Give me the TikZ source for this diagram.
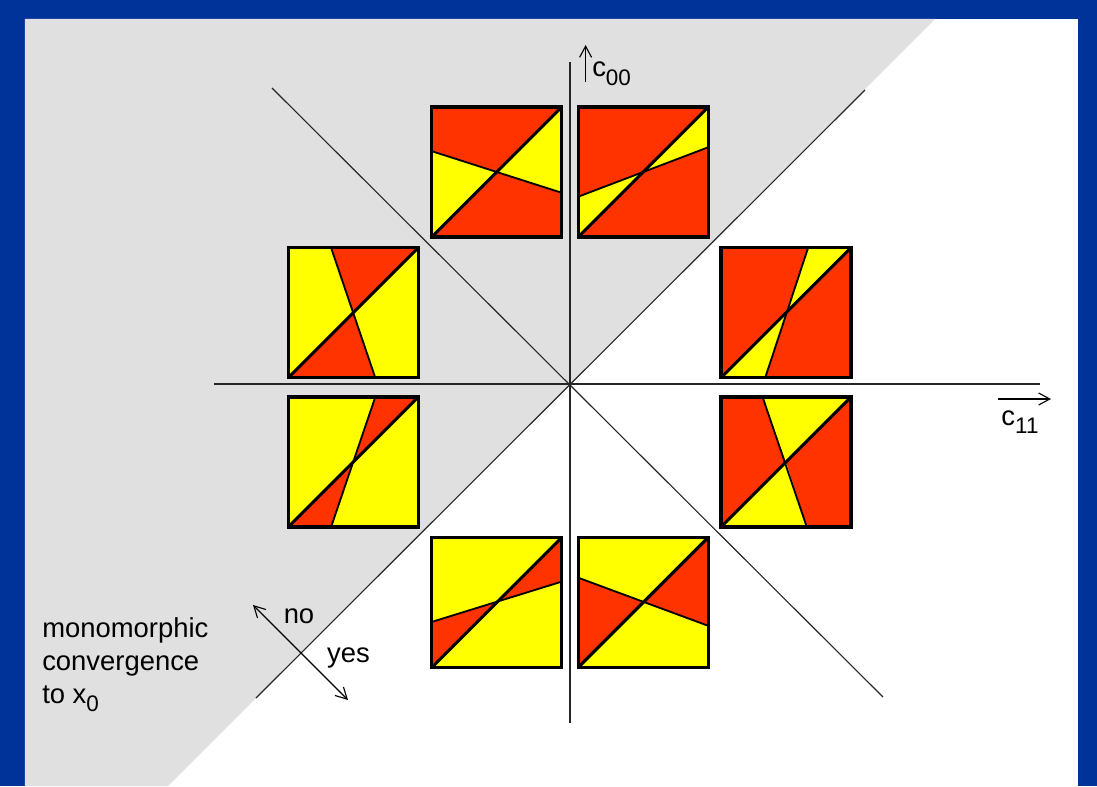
\documentclass[tikz,border=0pt]{standalone}
\usepackage{fontspec}
\setmainfont{Liberation Sans}
\usepackage{xcolor}
\usetikzlibrary{calc,arrows.meta}

\definecolor{hot}{RGB}{255,51,0}
\definecolor{sun}{RGB}{255,255,0}
\definecolor{greyzone}{RGB}{224,224,224}
\definecolor{frameblue}{RGB}{0,51,153}
\newcommand{\lowidx}[1]{\raisebox{-0.6ex}{\fontsize{16}{16}\selectfont #1}}

\begin{document}
\begin{tikzpicture}[
    cell/.style={minimum size=3.25cm, inner sep=0pt, outer sep=0pt},
    cellframe/.style={draw=black, line width=2.2pt},
    diag/.style={black, line width=2.2pt},
    split/.style={black, line width=1.3pt},
    axis/.style={black!85, line width=0.8pt},
    arrow/.style={->, >={Straight Barb[length=2.8mm, width=3mm]}, line width=0.8pt},
    lbl/.style={font=\fontsize{19.5}{23.5}\selectfont, inner sep=0pt}
]
\useasboundingbox (-14.25,-10.05) rectangle (13.175,9.6);

% frame and the shaded half plane
\fill[frameblue] (-14.25,-10.05) rectangle (13.175,9.6);
\fill[white] (-13.625,-10.05) rectangle (12.7,9.125);
\fill[greyzone] (-13.625,9.125) -- (9.125,9.125) -- (-10.05,-10.05) -- (-13.625,-10.05) -- cycle;

% axes and diagonals
\draw[axis] (-8.9,0) -- (11.75,0);
\draw[axis] (0,-8.475) -- (0,8.05);
\draw[axis] (-7.45,7.4) -- (7.825,-7.825);
\draw[axis] (-7.85,-7.85) -- (7.375,7.35);

\draw[arrow] (0.39,7.55) -- (0.39,8.475);
\node[lbl, anchor=base west] (c00) at (0.55,7.675) {c\lowidx{00}};
\draw[arrow] (10.7,-0.375) -- (12.025,-0.375);
\node[lbl, anchor=base west] (c11) at (10.78,-1.025) {c\lowidx{11}};

% top pair
\node[cell, fill=hot] (s1) at (-1.83,5.3) {};
\coordinate (s1l) at ($(s1.south west)!0.66!(s1.north west)$);
\coordinate (s1r) at ($(s1.north east)!0.66!(s1.south east)$);
\fill[sun] (s1.south west) -- (s1l) -- (s1.center) -- cycle;
\fill[sun] (s1.north east) -- (s1r) -- (s1.center) -- cycle;
\draw[split] (s1l) -- (s1r);
\draw[diag] (s1.south west) -- (s1.north east);
\draw[cellframe] (s1.south west) rectangle (s1.north east);

\node[cell, fill=hot] (s2) at (1.83,5.3) {};
\coordinate (s2l) at ($(s2.south west)!0.31!(s2.north west)$);
\coordinate (s2r) at ($(s2.north east)!0.31!(s2.south east)$);
\fill[sun] (s2.south west) -- (s2l) -- (s2.center) -- cycle;
\fill[sun] (s2.north east) -- (s2r) -- (s2.center) -- cycle;
\draw[split] (s2l) -- (s2r);
\draw[diag] (s2.south west) -- (s2.north east);
\draw[cellframe] (s2.south west) rectangle (s2.north east);

% left pair
\node[cell, fill=sun] (s3) at (-5.42,1.78) {};
\coordinate (s3t) at ($(s3.north east)!0.67!(s3.north west)$);
\coordinate (s3b) at ($(s3.south west)!0.67!(s3.south east)$);
\fill[hot] (s3.north east) -- (s3t) -- (s3.center) -- cycle;
\fill[hot] (s3.south west) -- (s3b) -- (s3.center) -- cycle;
\draw[split] (s3t) -- (s3b);
\draw[diag] (s3.south west) -- (s3.north east);
\draw[cellframe] (s3.south west) rectangle (s3.north east);

\node[cell, fill=sun] (s4) at (-5.42,-1.95) {};
\coordinate (s4t) at ($(s4.north east)!0.33!(s4.north west)$);
\coordinate (s4b) at ($(s4.south west)!0.33!(s4.south east)$);
\fill[hot] (s4.north east) -- (s4t) -- (s4.center) -- cycle;
\fill[hot] (s4.south west) -- (s4b) -- (s4.center) -- cycle;
\draw[split] (s4t) -- (s4b);
\draw[diag] (s4.south west) -- (s4.north east);
\draw[cellframe] (s4.south west) rectangle (s4.north east);

% right pair
\node[cell, fill=hot] (s5) at (5.4,1.78) {};
\coordinate (s5t) at ($(s5.north east)!0.33!(s5.north west)$);
\coordinate (s5b) at ($(s5.south west)!0.34!(s5.south east)$);
\fill[sun] (s5.north east) -- (s5t) -- (s5.center) -- cycle;
\fill[sun] (s5.south west) -- (s5b) -- (s5.center) -- cycle;
\draw[split] (s5t) -- (s5b);
\draw[diag] (s5.south west) -- (s5.north east);
\draw[cellframe] (s5.south west) rectangle (s5.north east);

\node[cell, fill=hot] (s6) at (5.4,-1.95) {};
\coordinate (s6t) at ($(s6.north east)!0.68!(s6.north west)$);
\coordinate (s6b) at ($(s6.south west)!0.66!(s6.south east)$);
\fill[sun] (s6.north east) -- (s6t) -- (s6.center) -- cycle;
\fill[sun] (s6.south west) -- (s6b) -- (s6.center) -- cycle;
\draw[split] (s6t) -- (s6b);
\draw[diag] (s6.south west) -- (s6.north east);
\draw[cellframe] (s6.south west) rectangle (s6.north east);

% bottom pair
\node[cell, fill=sun] (s7) at (-1.83,-5.46) {};
\coordinate (s7l) at ($(s7.south west)!0.35!(s7.north west)$);
\coordinate (s7r) at ($(s7.north east)!0.34!(s7.south east)$);
\fill[hot] (s7.south west) -- (s7l) -- (s7.center) -- cycle;
\fill[hot] (s7.north east) -- (s7r) -- (s7.center) -- cycle;
\draw[split] (s7l) -- (s7r);
\draw[diag] (s7.south west) -- (s7.north east);
\draw[cellframe] (s7.south west) rectangle (s7.north east);

\node[cell, fill=sun] (s8) at (1.83,-5.46) {};
\coordinate (s8l) at ($(s8.south west)!0.69!(s8.north west)$);
\coordinate (s8r) at ($(s8.north east)!0.68!(s8.south east)$);
\fill[hot] (s8.south west) -- (s8l) -- (s8.center) -- cycle;
\fill[hot] (s8.north east) -- (s8r) -- (s8.center) -- cycle;
\draw[split] (s8l) -- (s8r);
\draw[diag] (s8.south west) -- (s8.north east);
\draw[cellframe] (s8.south west) rectangle (s8.north east);

% convergence legend
\draw[arrow, <->] (-7.925,-5.525) -- (-5.55,-7.9);
\node[lbl, anchor=base] (no) at (-6.775,-5.975) {no};
\node[lbl, anchor=base] (yes) at (-5.54,-6.95) {yes};
\node[lbl, anchor=north west, align=left] (mono) at (-13.2,-5.825)
  {monomorphic\\convergence\\to x\lowidx{0}};

\end{tikzpicture}
\end{document}
